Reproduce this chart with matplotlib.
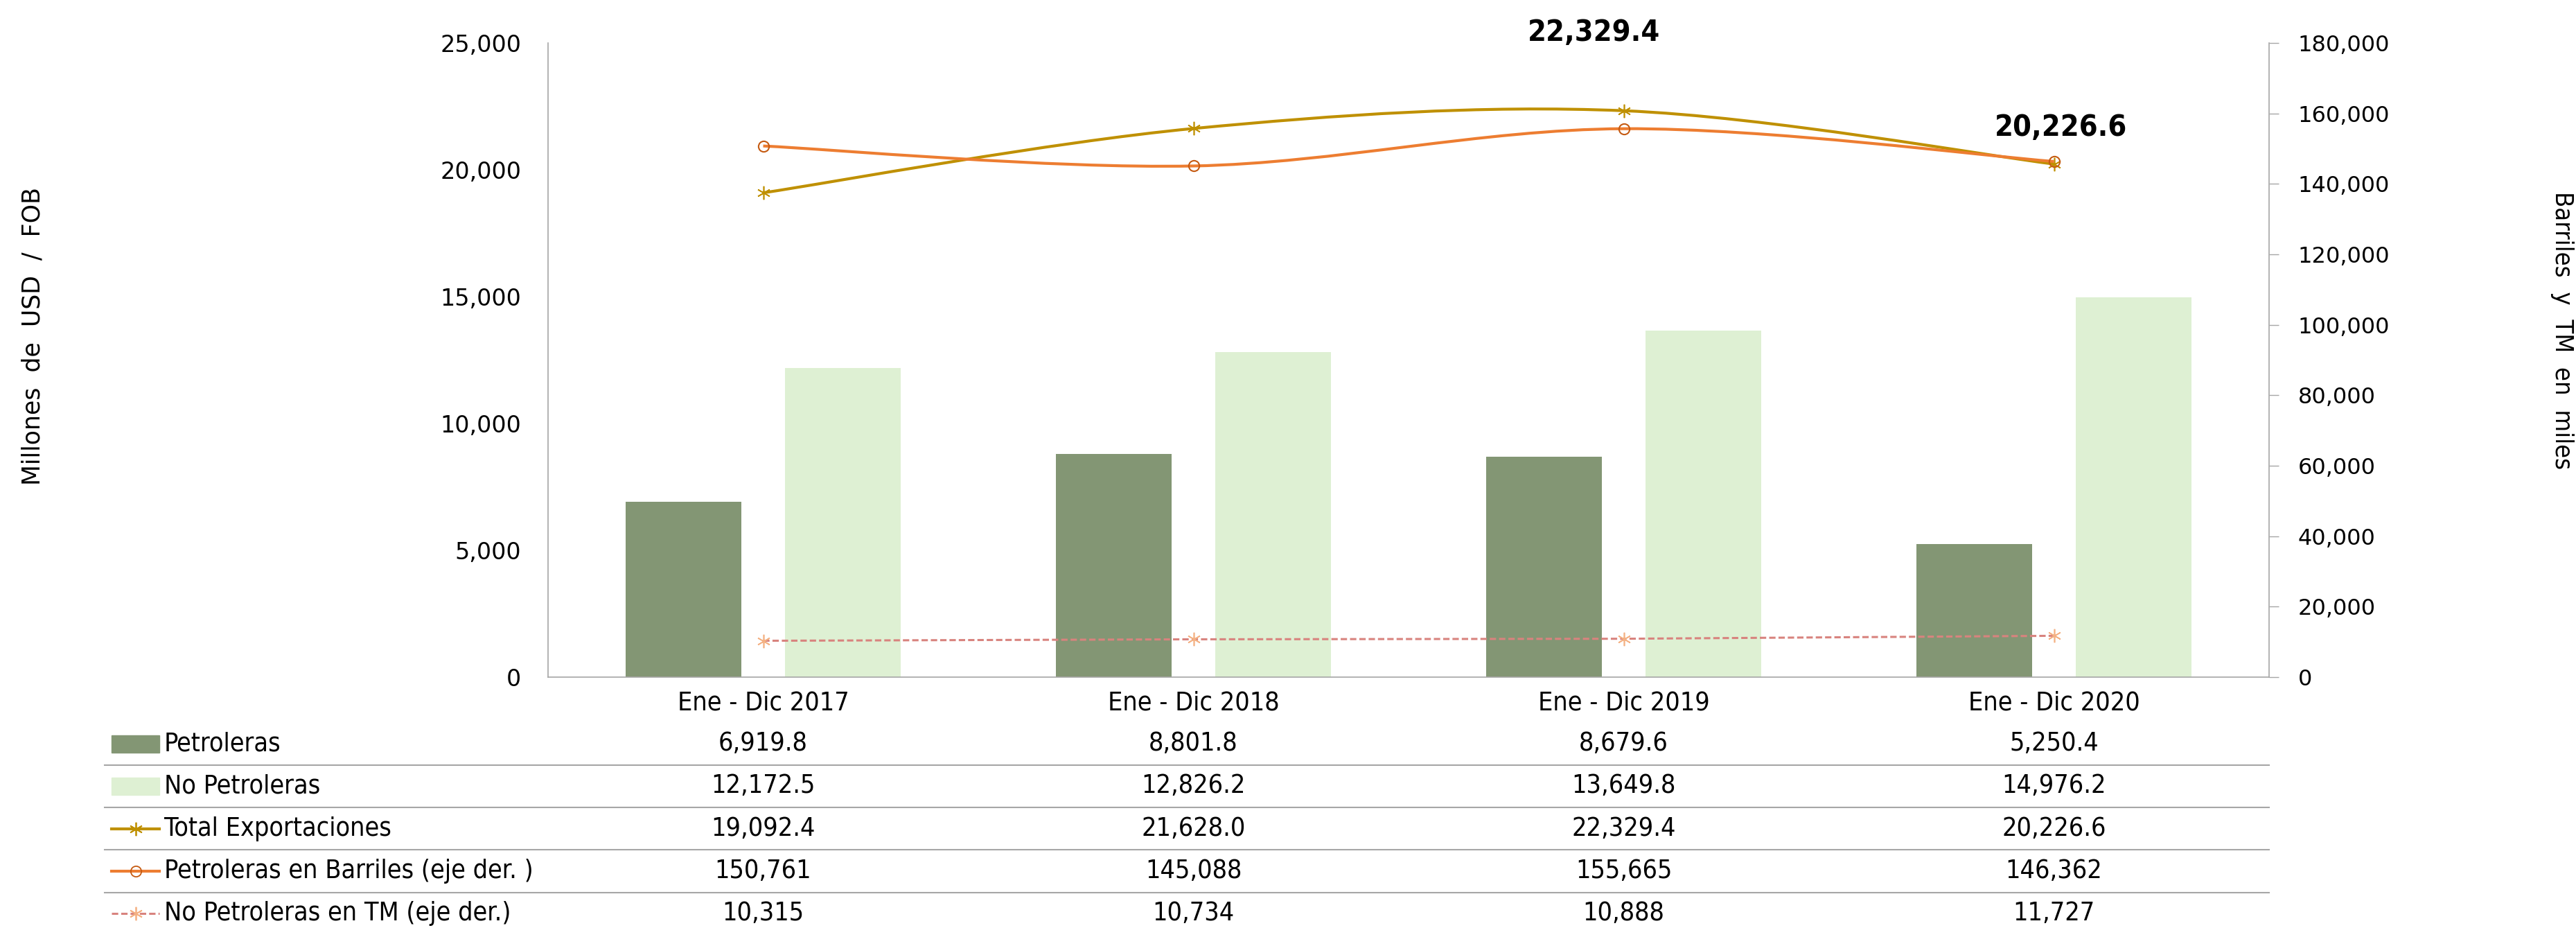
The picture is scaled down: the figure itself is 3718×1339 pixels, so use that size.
import matplotlib
matplotlib.use("Agg")
import matplotlib.pyplot as plt
import matplotlib.path as mpath
import matplotlib.patches as mpatches
from matplotlib.lines import Line2D
from matplotlib.transforms import blended_transform_factory
from matplotlib.ticker import FuncFormatter, MultipleLocator
import numpy as np

# datos
periodos = ['Ene - Dic 2017', 'Ene - Dic 2018', 'Ene - Dic 2019', 'Ene - Dic 2020']
petroleras = [6919.8, 8801.8, 8679.6, 5250.4]
no_petroleras = [12172.5, 12826.2, 13649.8, 14976.2]
total_export = [19092.4, 21628.0, 22329.4, 20226.6]
barriles = [150761, 145088, 155665, 146362]
tm_no_petroleras = [10315, 10734, 10888, 11727]
etiquetas_total = [2, 3]   # indices con etiqueta en negrita

nombres = ['Petroleras', 'No Petroleras', 'Total Exportaciones',
           'Petroleras en Barriles (eje der. )', 'No Petroleras en TM (eje der.)']

c_pet = '#839674'
c_nopet = '#DEF0D3'
c_total = '#BF9000'
c_barr = '#ED7D31'
c_barr_mk = '#C55A11'
c_tm = '#D8837E'
c_tm_mk = '#F4B183'
c_gris = '#A6A6A6'

plt.rcParams['font.family'] = ['DejaVu Sans']
angosta = dict(family=['DejaVu Sans'], stretch='condensed')

W, H = 3718, 1339
fig = plt.figure(figsize=(W / 100, H / 100), dpi=100)
ax = fig.add_axes([791 / W, 1 - 977 / H, (3275 - 791) / W, (977 - 62) / H])
ax2 = ax.twinx()

x = np.arange(len(periodos))
ancho = 0.27
ax.bar(x - 0.185, petroleras, width=ancho, color=c_pet, zorder=2)
ax.bar(x + 0.185, no_petroleras, width=ancho, color=c_nopet, zorder=2)


# curva suavizada tipo Excel (Bezier con puntos de control Catmull-Rom)
def curva_suave(axis, xs, ys, color, lw, ls='-'):
    xs = np.asarray(xs, float)
    ys = np.asarray(ys, float)
    pts = np.column_stack([xs, ys])
    verts = [pts[0]]
    codes = [mpath.Path.MOVETO]
    n = len(pts)
    for i in range(n - 1):
        p0 = pts[max(i - 1, 0)]
        p1 = pts[i]
        p2 = pts[i + 1]
        p3 = pts[min(i + 2, n - 1)]
        c1 = p1 + (p2 - p0) / 6
        c2 = p2 - (p3 - p1) / 6
        verts += [c1, c2, p2]
        codes += [mpath.Path.CURVE4] * 3
    patch = mpatches.PathPatch(mpath.Path(verts, codes), fill=False, edgecolor=color,
                               lw=lw, linestyle=ls, zorder=4, capstyle='butt')
    axis.add_patch(patch)


curva_suave(ax, x, total_export, c_total, 3)
ax.plot(x, total_export, linestyle='none', marker=(6, 2, 0), markersize=14,
        markeredgecolor=c_total, markeredgewidth=1.2, zorder=5)

curva_suave(ax2, x, barriles, c_barr, 3)
ax2.plot(x, barriles, linestyle='none', marker='o', markersize=11, markerfacecolor='none',
         markeredgecolor=c_barr_mk, markeredgewidth=1.5, zorder=5)

ax2.plot(x, tm_no_petroleras, color=c_tm, lw=2.2, linestyle=(0, (3, 1.4)), zorder=4)
ax2.plot(x, tm_no_petroleras, linestyle='none', marker=(6, 2, 0), markersize=14,
         markeredgecolor=c_tm_mk, markeredgewidth=1.2, zorder=5)

for i, off in zip(etiquetas_total, [(-31, 81), (7, 38)]):
    ax.annotate(f'{total_export[i]:,.1f}', (x[i], total_export[i]), xytext=off,
                textcoords='offset points', ha='center', va='center',
                fontsize=31, fontweight='bold', zorder=6, **angosta)

ax.set_xlim(-0.5, len(periodos) - 0.5)
ax.set_ylim(0, 25000)
ax2.set_ylim(0, 180000)
ax.yaxis.set_major_locator(MultipleLocator(5000))
ax2.yaxis.set_major_locator(MultipleLocator(20000))
fmt = FuncFormatter(lambda v, p: f'{v:,.0f}')
ax.yaxis.set_major_formatter(fmt)
ax2.yaxis.set_major_formatter(fmt)

ax.set_xticks(x)
ax.set_xticklabels(periodos, fontsize=27, **angosta)
ax.tick_params(axis='x', length=0, pad=14)
ax.tick_params(axis='y', length=0, pad=28, labelsize=24)
ax2.tick_params(axis='y', length=10, width=1, color=c_gris, pad=20, labelsize=23)

for a in (ax, ax2):
    a.spines['top'].set_visible(False)
    for s in ('left', 'right', 'bottom'):
        a.spines[s].set_color(c_gris)
        a.spines[s].set_linewidth(1.2)
ax.spines['right'].set_visible(False)
ax2.spines['left'].set_visible(False)
ax2.spines['bottom'].set_visible(False)

fig.text(48 / W, 1 - 485 / H, 'Millones  de  USD  /  FOB', rotation=90,
         ha='center', va='center', fontsize=25)
fig.text(3698 / W, 1 - 477 / H, 'Barriles  y  TM  en  miles', rotation=270,
         ha='center', va='center', fontsize=26, **angosta)

# tabla de datos
filas = [
    [f'{v:,.1f}' for v in petroleras],
    [f'{v:,.1f}' for v in no_petroleras],
    [f'{v:,.1f}' for v in total_export],
    [f'{v:,.0f}' for v in barriles],
    [f'{v:,.0f}' for v in tm_no_petroleras],
]
y0, paso = 1073, 61.3
trans = blended_transform_factory(ax.transData, fig.transFigure)
for r, fila in enumerate(filas):
    yf = 1 - (y0 + r * paso) / H
    for i, txt in enumerate(fila):
        fig.text(x[i], yf, txt, transform=trans, ha='center', va='center',
                 fontsize=27, **angosta)
    fig.text(237 / W, yf, nombres[r], ha='left', va='center', fontsize=27, **angosta)
    if r > 0:
        ys = 1 - (y0 + (r - 0.5) * paso) / H
        fig.add_artist(Line2D([151 / W, 3275 / W], [ys, ys], color=c_gris, lw=1.5))

# muestras de leyenda
sw_x0, sw_x1 = 161 / W, 230 / W
sw_h = 25 / H
for r, col in enumerate([c_pet, c_nopet]):
    yf = 1 - (y0 + r * paso) / H
    fig.add_artist(mpatches.Rectangle((sw_x0, yf - sw_h / 2), sw_x1 - sw_x0, sw_h,
                                      transform=fig.transFigure, color=col))
estilos = [
    (c_total, '-', (6, 2, 0), c_total, 3),
    (c_barr, '-', 'o', c_barr_mk, 3),
    (c_tm, (0, (3, 1.4)), (6, 2, 0), c_tm_mk, 2.2),
]
for k, (col, ls, mk, mkc, lw) in enumerate(estilos):
    yf = 1 - (y0 + (k + 2) * paso) / H
    fig.add_artist(Line2D([sw_x0, sw_x1], [yf, yf], color=col, lw=lw, linestyle=ls))
    fig.add_artist(Line2D([(sw_x0 + sw_x1) / 2], [yf], linestyle='none', marker=mk,
                          markersize=11 if mk == 'o' else 14,
                          markerfacecolor='none' if mk == 'o' else mkc,
                          markeredgecolor=mkc, markeredgewidth=1.3))

fig.savefig('out.png', dpi=100)
